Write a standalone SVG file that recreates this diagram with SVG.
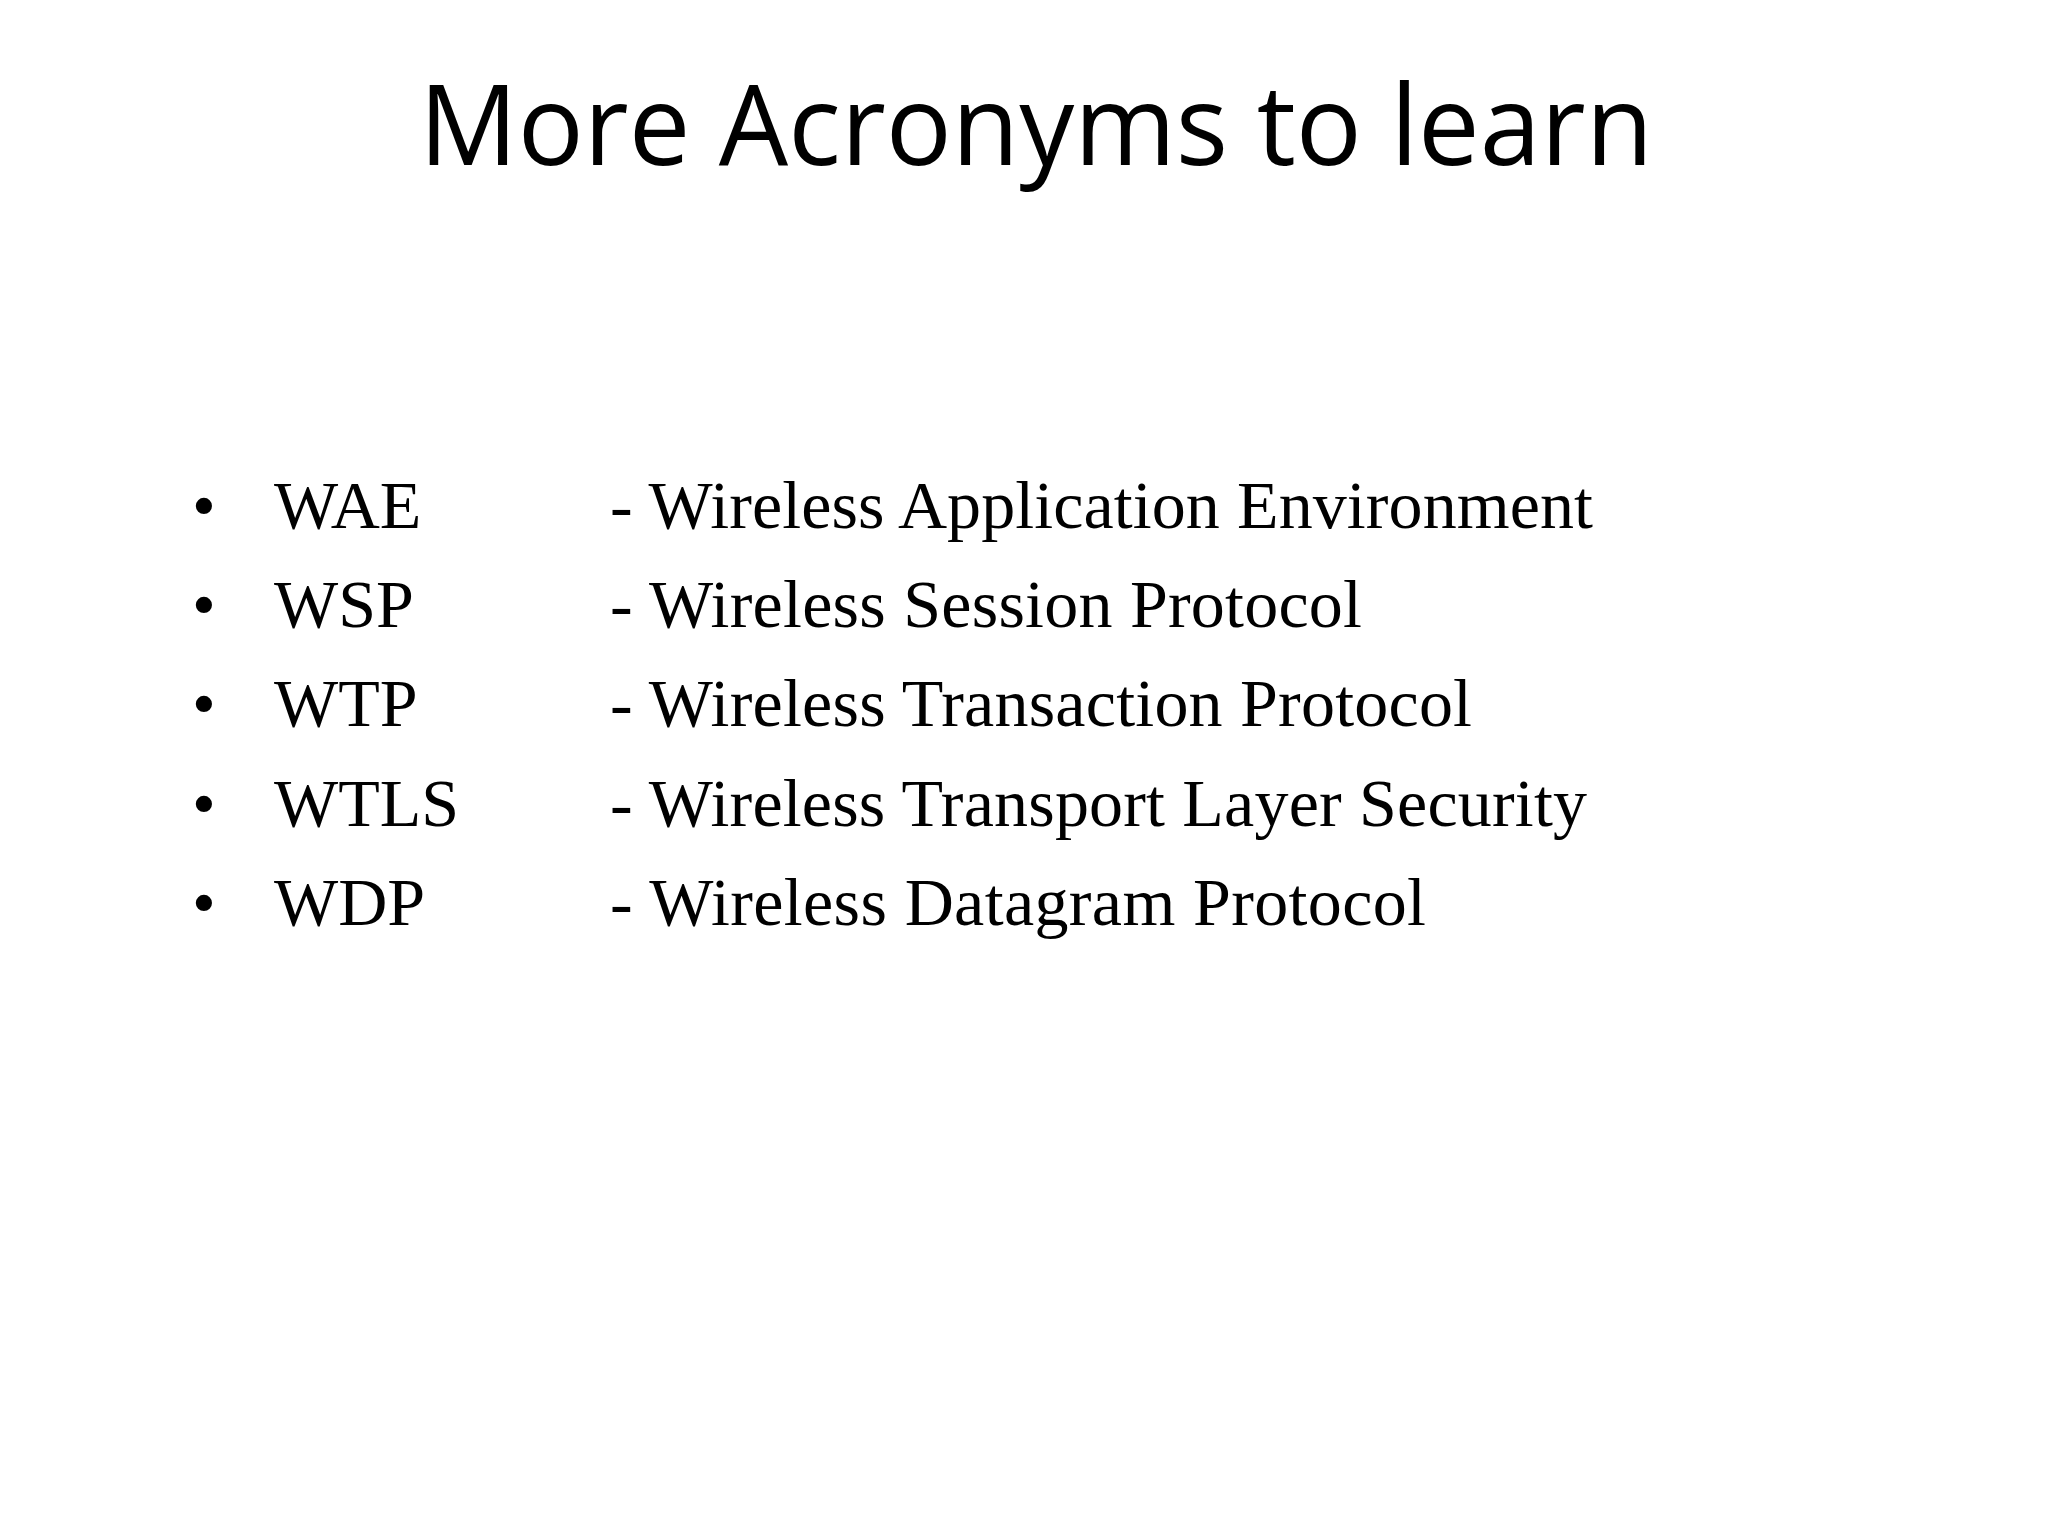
<svg xmlns="http://www.w3.org/2000/svg" width="2048" height="1536" viewBox="0 0 2048 1536">
<style>
.t{font-family:"Open Sans","Liberation Sans",sans-serif;font-size:112px;fill:#000}
.b{font-family:"Liberation Serif","Times New Roman",serif;font-size:68px;fill:#000}
</style>
<rect width="2048" height="1536" fill="#fff"/>
<text class="t" x="419" y="165" textLength="1234" lengthAdjust="spacingAndGlyphs">More Acronyms to learn</text>
<g id="items">
<g id="wae"><text class="b" x="192" y="528">•</text><text class="b" x="274" y="528">WAE</text><text class="b" x="610" y="528" textLength="983">- Wireless Application Environment</text></g>
<g id="wsp"><text class="b" x="192" y="627">•</text><text class="b" x="274" y="627">WSP</text><text class="b" x="610" y="627" textLength="752">- Wireless Session Protocol</text></g>
<g id="wtp"><text class="b" x="192" y="726">•</text><text class="b" x="274" y="726">WTP</text><text class="b" x="610" y="726" textLength="862">- Wireless Transaction Protocol</text></g>
<g id="wtls"><text class="b" x="192" y="826">•</text><text class="b" x="274" y="826">WTLS</text><text class="b" x="610" y="826" textLength="977">- Wireless Transport Layer Security</text></g>
<g id="wdp"><text class="b" x="192" y="925">•</text><text class="b" x="274" y="925">WDP</text><text class="b" x="610" y="925" textLength="816">- Wireless Datagram Protocol</text></g>
</g>
</svg>
